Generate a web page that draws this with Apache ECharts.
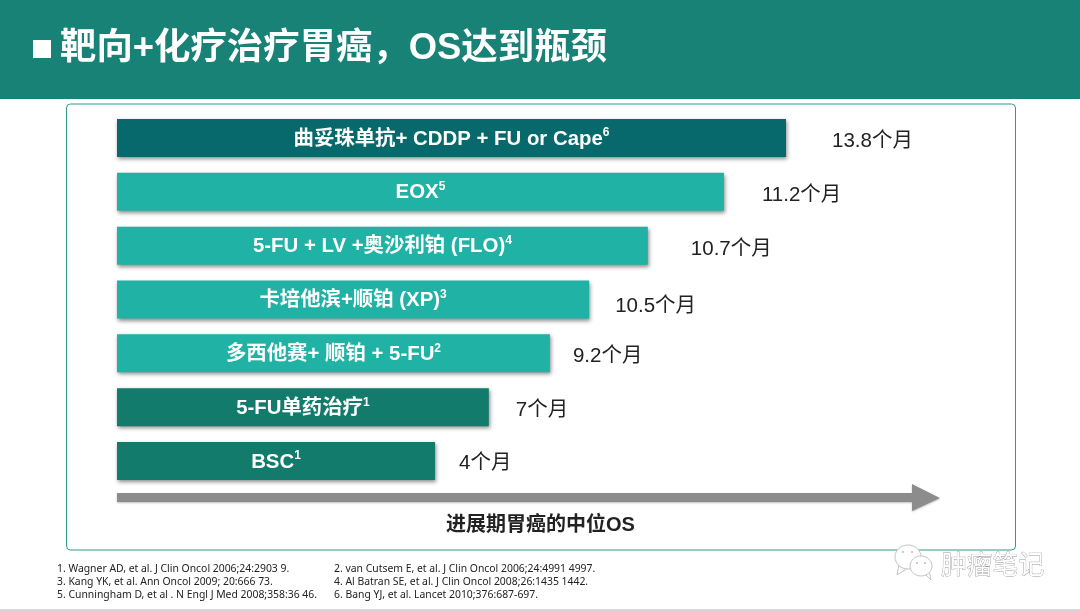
<!DOCTYPE html>
<html><head><meta charset="utf-8">
<style>html,body{margin:0;padding:0;background:#fff}#c{width:1080px;height:611px}</style>
<script src="https://cdn.jsdelivr.net/npm/echarts@6/dist/echarts.min.js"></script>
</head><body><div id="c"></div>
<script>
const regimens = ['曲妥珠单抗+ CDDP + FU or Cape','EOX','5-FU + LV +奥沙利铂 (FLO)','卡培他滨+顺铂 (XP)','多西他赛+ 顺铂 + 5-FU','5-FU单药治疗','BSC'];
const refs = ['6','5','4','3','2','1','1'];
const osLabels = ['13.8个月','11.2个月','10.7个月','10.5个月','9.2个月','7个月','4个月'];
// Bar lengths as drawn in the picture (not proportional to the printed values), on a scale where the longest = 13.8
const drawnLengths = [13.8,12.52,10.95,9.74,8.93,7.67,6.56];
const barColors = ['#07696B','#20B2A4','#20B2A4','#20B2A4','#20B2A4','#137B6B','#137B6B'];
const labelGaps = [46,38,43,26,23,27,24];
const labelDrops = [3,4,4,7,3,3,2];
const title = '靶向+化疗治疗胃癌，OS达到瓶颈';
const axisTitle = '进展期胃癌的中位OS';
const footnotes = [
 ['1. Wagner AD, et al. J Clin Oncol 2006;24:2903 9.','2. van Cutsem E, et al. J Clin Oncol 2006;24:4991 4997.'],
 ['3. Kang YK, et al. Ann Oncol 2009; 20:666 73.','4. Al Batran SE, et al. J Clin Oncol 2008;26:1435 1442.'],
 ['5. Cunningham D, et al . N Engl J Med 2008;358:36 46.','6. Bang YJ, et al. Lancet 2010;376:687-697.']
];
const CJK = '"Liberation Sans","Noto Sans CJK SC",sans-serif';
const chart = echarts.init(document.getElementById('c'), null, {renderer:'canvas'});
const noteEls = [];
const noteY = [569,582,595], noteX = [[57,334],[57,334],[57,334]];
footnotes.forEach((row,i)=>row.forEach((t,j)=>noteEls.push({type:'text',z:5,style:{x:noteX[i][j],y:noteY[i],text:t,fill:'#222',font:'10.4px "Noto Sans",sans-serif',verticalAlign:'middle'}})));
chart.setOption({
  animation:false,
  backgroundColor:'#fff',
  grid:{left:117,top:111,width:669,height:377,containLabel:false},
  xAxis:{type:'value',min:0,max:13.8,show:false},
  yAxis:{type:'category',data:regimens,inverse:true,show:false},
  series:[
    {type:'bar',barWidth:38,z:3,
     data:drawnLengths.map((v,i)=>({value:v,itemStyle:{color:barColors[i]}})),
     itemStyle:{shadowBlur:4,shadowOffsetX:1,shadowOffsetY:2,shadowColor:'rgba(0,0,0,0.45)'},
     label:{show:true,position:'inside',offset:[0,1],
       formatter:p=>`{a|${regimens[p.dataIndex]}}{s|${refs[p.dataIndex]}}`,
       rich:{a:{fontFamily:CJK,fontWeight:'bold',fontSize:20.4,color:'#fff',lineHeight:24},
             s:{fontFamily:CJK,fontWeight:'bold',fontSize:12,color:'#fff',lineHeight:24,verticalAlign:'top',padding:[0,0,6,0]}}}},
    {type:'bar',barWidth:38,barGap:'-100%',z:4,
     data:drawnLengths.map((v,i)=>({value:v,itemStyle:{color:'transparent'},
       label:{distance:labelGaps[i],offset:[0,labelDrops[i]]}})),
     label:{show:true,position:'right',formatter:p=>osLabels[p.dataIndex],
       fontFamily:CJK,fontSize:20.5,color:'#222'}}
  ],
  graphic:[
    {type:'rect',z:-1,shape:{x:0,y:0,width:1080,height:99},style:{fill:'#198277'}},
    {type:'rect',z:5,shape:{x:33,y:40,width:18,height:18},style:{fill:'#fff'}},
    {type:'text',z:5,style:{x:60,y:49,text:title,fill:'#fff',font:'bold 36.4px '+CJK,verticalAlign:'middle'}},
    {type:'rect',z:-1,shape:{x:66.5,y:104,width:949,height:446,r:4},style:{fill:'#fff',stroke:'#2E9A8D',lineWidth:1}},
    {type:'polygon',z:2,shape:{points:[[117,493],[912,493],[912,484],[940,498],[912,511],[912,502],[117,502]]},style:{fill:'#8C8C8C',shadowBlur:2,shadowOffsetY:1,shadowColor:'rgba(0,0,0,0.25)'}},
    {type:'text',z:5,style:{x:540.5,y:525,text:axisTitle,fill:'#222',font:'bold 20px '+CJK,align:'center',verticalAlign:'middle'}},
    ...noteEls,
    {type:'rect',z:5,shape:{x:0,y:609,width:1080,height:2},style:{fill:'#D8D8D8'}},
    // watermark
    {type:'polygon',z:6,shape:{points:[[899,564],[897,575],[908,568]]},style:{fill:'#fff',stroke:'#C4C4C4',lineWidth:1}},
    {type:'ellipse',z:6,shape:{cx:908,cy:557,rx:13,ry:12},style:{fill:'#fff',stroke:'#C4C4C4',lineWidth:1}},
    {type:'polygon',z:6,shape:{points:[[924,573],[931,580],[929,570]]},style:{fill:'#fff',stroke:'#C4C4C4',lineWidth:1}},
    {type:'ellipse',z:6,shape:{cx:921,cy:566,rx:11,ry:10},style:{fill:'#fff',stroke:'#C4C4C4',lineWidth:1}},
    {type:'circle',z:7,shape:{cx:903,cy:552,r:1},style:{fill:'#BBB'}},
    {type:'circle',z:7,shape:{cx:912,cy:552,r:1},style:{fill:'#BBB'}},
    {type:'circle',z:7,shape:{cx:917,cy:563,r:1},style:{fill:'#BBB'}},
    {type:'circle',z:7,shape:{cx:925,cy:563,r:1},style:{fill:'#BBB'}},
    {type:'text',z:6,style:{x:941,y:564,text:'肿瘤笔记',fill:'#fff',stroke:'#9A9A9A',lineWidth:0.8,font:'25.8px "Noto Sans CJK SC",sans-serif',verticalAlign:'middle'}}
  ]
});
</script></body></html>
